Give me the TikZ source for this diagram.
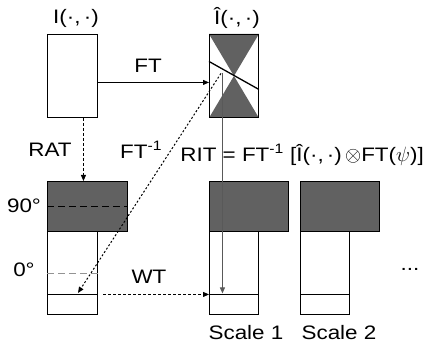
\documentclass[tikz,border=0pt]{standalone}
\usepackage{fontspec}
\setmainfont[FakeStretch=1.15]{Liberation Sans}
\usetikzlibrary{arrows.meta,calc}
\definecolor{panel}{gray}{0.38}
\definecolor{guide}{gray}{0.35}

\begin{document}
\begin{tikzpicture}[x=1pt,y=-1pt,
  lbl/.style={font=\fontsize{19.5}{22}\selectfont, inner sep=0pt},
  frame/.style={draw, line width=0.9pt, inner sep=0pt, anchor=north west},
  tip/.style={-{Triangle[length=6pt,width=5pt]}},
  flow/.style={tip, line width=0.9pt, dash pattern=on 3pt off 2pt},
  inverse/.style={tip, line width=1pt, dash pattern=on 2pt off 2pt},
  level/.style={line width=0.9pt, dash pattern=on 7pt off 4pt},
  band/.style={line width=1.5pt}]
\useasboundingbox (0,0) rectangle (426,347);

% image and its Fourier transform
\node[frame, minimum width=50pt, minimum height=83pt] (img) at (47,34) {};
\node[frame, minimum width=49pt, minimum height=83pt] (hat) at (209,34) {};
\fill[panel] (hat.north west) -- (hat.north east) -- (hat.center) -- cycle;
\fill[panel] (hat.south west) -- (hat.south east) -- (hat.center) -- cycle;
\draw[line width=0.9pt] (hat.north west) rectangle (hat.south east);
\draw[line width=1.3pt] ($(hat.west)+(0,-14.5)$) -- ($(hat.east)+(0,13.5)$);
\coordinate (slice) at ($(hat.center)+(-13,-2.5)$);
\coordinate (vtop) at ($(hat.center)+(-11.5,-3)$);

% Radon transform columns (angle axis above, scale columns)
\node[frame, minimum width=50pt, minimum height=83pt] (col0) at (47,231) {};
\node[frame, fill=panel, minimum width=80pt, minimum height=50pt] (top0) at (47,181) {};
\node[frame, minimum width=49pt, minimum height=83pt] (col1) at (209,231) {};
\node[frame, fill=panel, minimum width=79pt, minimum height=50pt] (top1) at (209,181) {};
\node[frame, minimum width=49pt, minimum height=83pt] (col2) at (300,231) {};
\node[frame, fill=panel, minimum width=79pt, minimum height=50pt] (top2) at (300,181) {};

% angle levels
\draw[level, black] (top0.west) -- (top0.east);
\draw[level, gray!85] ($(col0.west)+(0,0.5)$) -- ($(col0.east)+(0,0.5)$);

% selected projection bands
\coordinate (b0w) at ($(col0.west)+(0,21.5)$);
\coordinate (b1w) at ($(col1.west)+(0,21.5)$);
\coordinate (b2w) at ($(col2.west)+(0,21.5)$);
\draw[band] (b0w) -- (b0w -| col0.east);
\draw[band] (b1w) -- (b1w -| col1.east);
\draw[band] (b2w) -- (b2w -| col2.east);

% connectors
\draw[tip, line width=0.8pt] ($(img.east)+(0,6.5)$) -- ($(hat.west)+(0,6.5)$);
\coordinate (ratstart) at ($(img.south)+(11,0)$);
\draw[flow] (ratstart) -- (ratstart |- top0.north);
\draw[inverse] (slice) -- ($(b0w)+(31,-1.5)$);
\draw[tip, line width=1pt, guide] (vtop) -- ($(vtop |- b1w)+(0,-1)$);
\draw[flow] ($(b0w)+(56,0)$) -- (b1w);

% labels
\node[lbl] (limg) at (76,18) {I(·,\,·)};
\node[lbl] (lhat) at (237,18) {Î(·,\,·)};
\node[lbl] (lft) at (148,66) {FT};
\node[lbl] (lrat) at (50,150) {RAT};
\node[lbl, anchor=west] (linv) at (120,150) {FT\textsuperscript{-1}};
\node[lbl, anchor=east] (lrit) at (424,155) {RIT = FT\textsuperscript{-1} [Î(·,\,·)\,$\otimes$FT($\psi$)]};
\node[lbl] (l90) at (24,206) {90°};
\node[lbl] (l0) at (24,270) {0°};
\node[lbl] (lwt) at (149,277) {WT};
\node[lbl] (ls1) at (246,333) {Scale 1};
\node[lbl] (ls2) at (339,333) {Scale 2};
\node[lbl, anchor=base] (ldots) at (410,271) {...};
\end{tikzpicture}
\end{document}
